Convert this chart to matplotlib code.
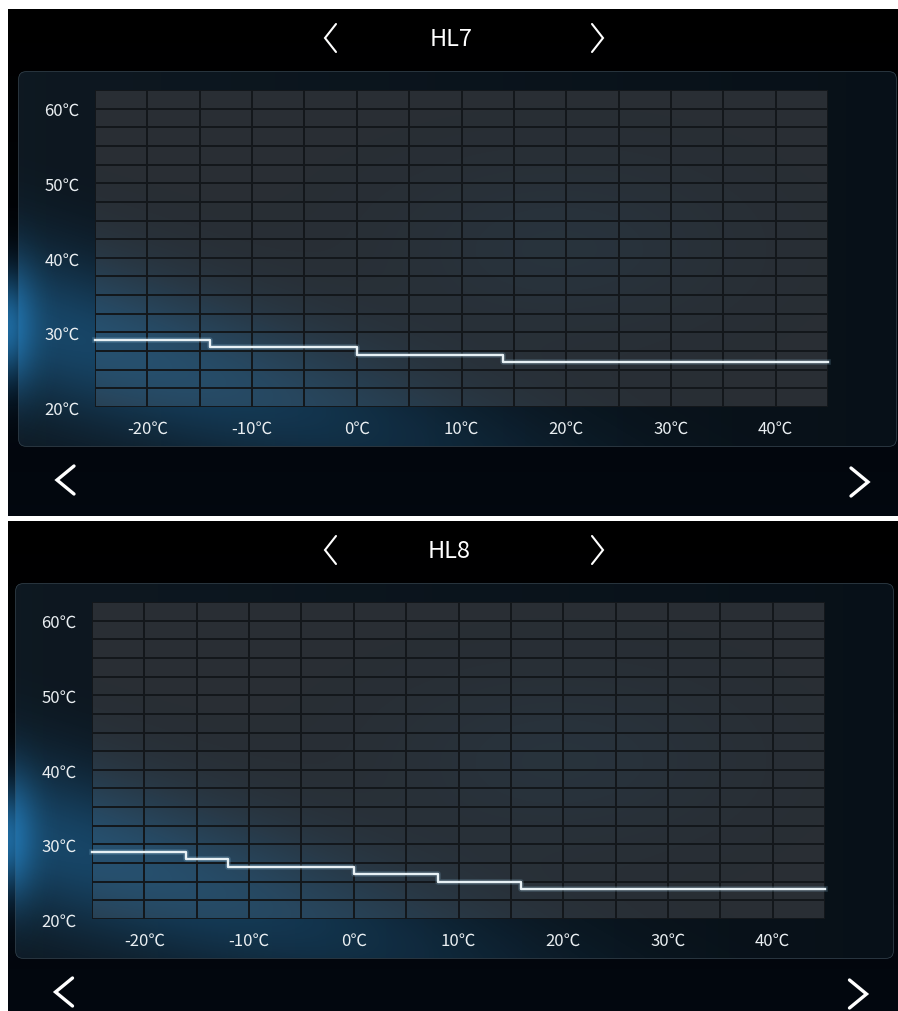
import numpy as np
import matplotlib
matplotlib.use("Agg")
import matplotlib.pyplot as plt
from matplotlib.patches import FancyBboxPatch, Rectangle
from matplotlib.lines import Line2D

plt.rcParams['font.family'] = ["Noto Sans CJK SC", "DejaVu Sans"]

# heating curves: outdoor temperature (start of each step) -> water temperature
hl7_outdoor = [-25, -14, 0, 14, 45]
hl7_water = [29, 28, 27, 26, 26]
hl8_outdoor = [-25, -16, -12, 0, 8, 16, 45]
hl8_water = [29, 28, 27, 26, 25, 24, 24]

curve_names = ["HL7", "HL8"]
x_ticks = [-20, -10, 0, 10, 20, 30, 40]
y_ticks = [20, 30, 40, 50, 60]
x_range = (-25, 45)
y_range = (20, 62.5)
x_step = 5
y_step = 2.5
unit = "℃"

W, H = 898, 1012
fig = plt.figure(figsize=(W / 100, H / 100), dpi=100, facecolor="white")
bg = fig.add_axes([0, 0, 1, 1])
bg.set_xlim(0, W)
bg.set_ylim(H, 0)
bg.axis("off")

TXT = "#e9eef1"
GLOW = np.array([0.14, 0.48, 0.72])


def rgba_img(alpha):
    img = np.zeros(alpha.shape + (4,))
    img[..., :3] = GLOW
    img[..., 3] = np.clip(alpha, 0, 1)
    return img


def chevron(x_tip, x_arm, yc, half_h, lw):
    bg.add_line(Line2D([x_arm, x_tip, x_arm], [yc - half_h, yc, yc + half_h],
                       color="white", lw=lw, solid_capstyle="round",
                       solid_joinstyle="miter", zorder=6))


def draw_screen(y0, y1, dx, name, xs, ys):
    sx0, sx1 = 8, W
    # screen background: black header fading to deep navy
    grad = np.linspace(0, 1, 256)[:, None]
    scr = np.zeros((256, 1, 3))
    scr[..., 0] = 0.01 * grad
    scr[..., 1] = 0.03 * grad
    scr[..., 2] = 0.06 * grad
    bg.imshow(scr, extent=[sx0, sx1, y1, y0], aspect="auto", zorder=1,
              interpolation="bilinear")

    # rounded panel
    px0, px1 = 19 + dx, 896 + dx
    py0, py1 = y0 + 63, y0 + 437
    panel = FancyBboxPatch((px0, py0), px1 - px0, py1 - py0,
                           boxstyle="round,pad=0,rounding_size=7",
                           facecolor="#0b161f", edgecolor="#34434e",
                           lw=1.1, zorder=2)
    bg.add_patch(panel)
    hgrad = np.linspace(0, 1, 256)[None, :]
    pimg = np.zeros((1, 256, 3))
    pimg[..., 0] = 0.055 - 0.025 * hgrad
    pimg[..., 1] = 0.095 - 0.03 * hgrad
    pimg[..., 2] = 0.13 - 0.035 * hgrad
    im = bg.imshow(pimg, extent=[px0, px1, py1, py0], aspect="auto",
                   zorder=2.1, interpolation="bilinear")
    im.set_clip_path(panel)

    # grid cell area
    gx0, gx1 = 95 + dx, 828 + dx
    gy0, gy1 = y0 + 81, y0 + 398
    bg.add_patch(Rectangle((gx0, gy0), gx1 - gx0, gy1 - gy0,
                           facecolor="#292e34", edgecolor="none", zorder=3))

    # blue light beam from the left edge
    xx, yy = np.meshgrid(np.linspace(px0, px1, 300),
                         np.linspace(py0, py1, 200))
    ox, oy = sx0, y0 + 310
    ang = np.deg2rad(17)
    s = (xx - ox) * np.cos(ang) + (yy - oy) * np.sin(ang)
    d = -(xx - ox) * np.sin(ang) + (yy - oy) * np.cos(ang)
    band = 0.48 * np.exp(-d ** 2 / (2 * 55 ** 2)) * np.exp(-np.maximum(s, 0) ** 2 / (2 * 340 ** 2))
    haze = 0.07 * np.exp(-((xx - 560) ** 2 / (2 * 120 ** 2) + (yy - (y0 + 240)) ** 2 / (2 * 60 ** 2)))
    im = bg.imshow(rgba_img(band + haze), extent=[px0, px1, py1, py0],
                   aspect="auto", zorder=4, interpolation="bilinear")
    im.set_clip_path(panel)

    xx, yy = np.meshgrid(np.linspace(sx0, 140, 120), np.linspace(y0 + 180, y0 + 460, 200))
    core = 0.85 * np.exp(-((xx - sx0) ** 2 / (2 * 18 ** 2) + (yy - (y0 + 318)) ** 2 / (2 * 40 ** 2)))
    bg.imshow(rgba_img(core), extent=[sx0, 140, y0 + 460, y0 + 180],
              aspect="auto", zorder=4.5, interpolation="bilinear")

    # header
    bg.text(451 + dx / 2, y0 + 29, name, color="white", fontsize=17,
            ha="center", va="center", zorder=6)
    chevron(325, 336, y0 + 29, 14, 1.5)
    chevron(603, 592, y0 + 29, 14, 1.5)
    # bottom navigation
    chevron(57 + dx / 2, 74 + dx / 2, y0 + 471, 14, 2.4)
    chevron(868 + dx / 2, 851 + dx / 2, y0 + 473, 14, 2.4)

    # chart
    ax = fig.add_axes([gx0 / W, 1 - gy1 / H, (gx1 - gx0) / W, (gy1 - gy0) / H])
    ax.set_facecolor("none")
    ax.set_xlim(*x_range)
    ax.set_ylim(*y_range)
    ax.set_xticks(x_ticks)
    ax.set_xticklabels([f"{v}{unit}" for v in x_ticks])
    ax.set_yticks(y_ticks)
    ax.set_yticklabels([f"{v}{unit}" for v in y_ticks])
    ax.set_xticks(np.arange(x_range[0], x_range[1] + 0.1, x_step), minor=True)
    ax.set_yticks(np.arange(y_range[0], y_range[1] + 0.1, y_step), minor=True)
    ax.grid(which="both", color="#13171b", lw=1.4)
    ax.set_axisbelow(True)
    ax.tick_params(which="both", length=0, colors=TXT, labelsize=12)
    ax.tick_params(axis="y", pad=11)
    ax.tick_params(axis="x", pad=9)
    for sp in ax.spines.values():
        sp.set_visible(False)

    ax.step(xs, ys, where="post", color="#9fd3f0", lw=4.0, alpha=0.2,
            clip_on=False, zorder=3)
    ax.step(xs, ys, where="post", color="#e8f1f5", lw=1.7,
            clip_on=False, zorder=4)


draw_screen(10, 517, 0, curve_names[0], hl7_outdoor, hl7_water)
draw_screen(522, 1012, -3, curve_names[1], hl8_outdoor, hl8_water)

fig.savefig("out.png", dpi=100, facecolor="white")
